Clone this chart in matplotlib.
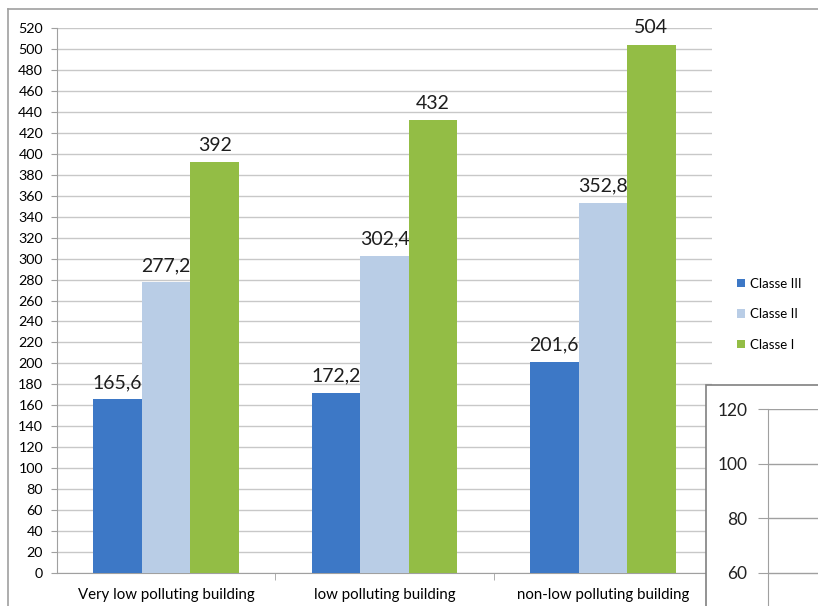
import numpy as np
import matplotlib.pyplot as plt
from matplotlib.patches import Rectangle
from matplotlib.lines import Line2D

plt.rcParams['font.family'] = ['Lato', 'DejaVu Sans']

# данные
categories = ['Very low polluting building', 'low polluting building', 'non-low polluting building']
series = ['Classe III', 'Classe II', 'Classe I']
values = [
    [165.6, 172.2, 201.6],   # Classe III
    [277.2, 302.4, 352.8],   # Classe II
    [392, 432, 504],         # Classe I
]
colors = ['#3d78c6', '#b9cde6', '#93bd45']
inset_ticks = [60, 80, 100, 120]

W, H = 818, 606
fig = plt.figure(figsize=(W / 100, H / 100), dpi=100)

# рамка диаграммы
fig.add_artist(Line2D([8 / W, 1], [1 - 9 / H, 1 - 9 / H], color='#a0a0a0', lw=1.2))
fig.add_artist(Line2D([8 / W, 8 / W], [0, 1 - 9 / H], color='#a0a0a0', lw=1.2))

ax = fig.add_axes([57 / W, 1 - 573 / H, (712 - 57) / W, (573 - 28) / H])
x = np.arange(len(categories))
w = 0.222
for i, (name, vals) in enumerate(zip(series, values)):
    pos = x + (i - 1) * w
    ax.bar(pos, vals, w, color=colors[i], label=name, zorder=3)
    for p, v in zip(pos, vals):
        txt = ('%g' % v).replace('.', ',')
        ax.text(p, v + 8, txt, ha='center', va='bottom', fontsize=14, color='#1e1e1e')

ax.set_xlim(-0.5, 2.5)
ax.set_ylim(0, 520)
ax.set_yticks(np.arange(0, 521, 20))
ax.set_xticks(x)
ax.set_xticklabels(categories, fontsize=10.8)
ax.set_xticks([0.5, 1.5], minor=True)
ax.tick_params(axis='x', which='major', length=0, pad=11)
ax.tick_params(axis='x', which='minor', length=5, color='#a0a0a0')
ax.tick_params(axis='y', labelsize=10.3, length=4, color='#a0a0a0', pad=6)
ax.grid(axis='y', color='#c8c8c8', lw=1, zorder=0)
for s in ['top', 'right']:
    ax.spines[s].set_visible(False)
for s in ['left', 'bottom']:
    ax.spines[s].set_color('#a0a0a0')

ax.legend(loc='center left', bbox_to_anchor=(1.02, 0.475), frameon=False, fontsize=9.5,
          handlelength=0.6, handleheight=0.6, handletextpad=0.4, labelspacing=1.4)

# второй график поверх (обрезанный)
fig.add_artist(Rectangle((706 / W, -0.1), 1, 1.1 - 385 / H, transform=fig.transFigure,
                         facecolor='white', edgecolor='#808080', lw=1.2, zorder=5))
ax2 = fig.add_axes([768 / W, 0, 1 - 768 / W, (606 - 409) / H], zorder=6)
ax2.set_facecolor('none')
ax2.set_ylim(120 - 197 / 2.733, 120)
ax2.set_yticks(inset_ticks)
ax2.set_xticks([])
ax2.tick_params(axis='y', labelsize=12.5, length=7, color='#a0a0a0', pad=8, labelcolor='#222222')
ax2.grid(axis='y', color='#a0a0a0', lw=1)
for s in ['top', 'right', 'bottom']:
    ax2.spines[s].set_visible(False)
ax2.spines['left'].set_color('#a0a0a0')

fig.savefig('out.png', dpi=100)
